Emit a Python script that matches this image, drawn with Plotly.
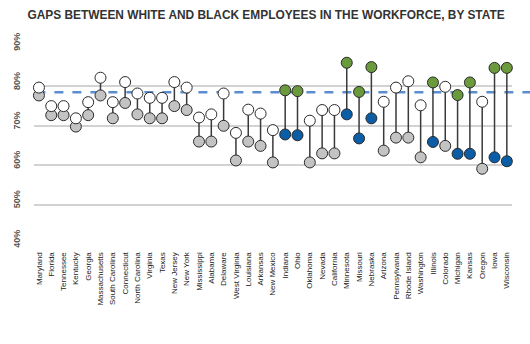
import plotly.graph_objects as go

states = ["Maryland", "Florida", "Tennessee", "Kentucky", "Georgia", "Massachusetts",
          "South Carolina", "Connecticut", "North Carolina", "Virginia", "Texas",
          "New Jersey", "New York", "Mississippi", "Alabama", "Delaware", "West Virginia",
          "Louisiana", "Arkansas", "New Mexico", "Indiana", "Ohio", "Oklahoma", "Nevada",
          "California", "Minnesota", "Missouri", "Nebraska", "Arizona", "Pennsylvania",
          "Rhode Island", "Washington", "Illinois", "Colorado", "Michigan", "Kansas",
          "Oregon", "Iowa", "Wisconsin"]
white_rate = [79.7, 75.0, 75.0, 71.9, 76.0, 82.2, 76.0, 81.1, 78.2, 77.1, 77.1,
              81.1, 79.7, 72.1, 72.9, 78.2, 68.2, 74.1, 73.1, 68.9, 79.0, 78.8,
              71.3, 74.0, 74.0, 86.0, 78.6, 84.9, 76.1, 79.7, 81.3, 75.2, 81.0,
              79.9, 77.8, 81.0, 76.1, 84.7, 84.7]
black_rate = [77.7, 72.7, 72.7, 69.8, 72.7, 77.7, 71.9, 75.8, 72.9, 71.9, 71.9,
              75.0, 74.0, 66.0, 66.0, 70.0, 61.2, 66.0, 64.9, 60.7, 67.8, 67.6,
              60.7, 63.0, 63.0, 72.9, 66.8, 71.9, 63.7, 67.0, 67.0, 62.0, 65.9,
              64.9, 62.9, 62.9, 59.1, 62.0, 61.0]
highlighted = ["Indiana", "Ohio", "Minnesota", "Missouri", "Nebraska", "Illinois",
               "Michigan", "Kansas", "Iowa", "Wisconsin"]
national_avg = 78.5
y_ticks = [40, 50, 60, 70, 80, 90]
y_tick_labels = ["40%", "50%", "60%", "70%", "80%", "90%"]

fig = go.Figure()

# connectors: one segment per state, from black rate up to white rate
lx, ly = [], []
for s, w, b in zip(states, white_rate, black_rate):
    lx += [s, s, None]
    ly += [b, w, None]
fig.add_trace(go.Scatter(x=lx, y=ly, mode="lines", connectgaps=False,
                         line=dict(color="#3a3a3a", width=1.5),
                         hoverinfo="skip", showlegend=False))

top_colors = ["#6a9a3c" if s in highlighted else "#ffffff" for s in states]
bot_colors = ["#0b5ea5" if s in highlighted else "#c3c3c3" for s in states]

fig.add_trace(go.Scatter(x=states, y=black_rate, mode="markers",
                         marker=dict(size=11, color=bot_colors,
                                     line=dict(color="#2a2a2a", width=1)),
                         showlegend=False, cliponaxis=False))
fig.add_trace(go.Scatter(x=states, y=white_rate, mode="markers",
                         marker=dict(size=11, color=top_colors,
                                     line=dict(color="#2a2a2a", width=1)),
                         showlegend=False, cliponaxis=False))

fig.add_shape(type="line", xref="paper", yref="y", x0=0.005, x1=1.04,
              y0=national_avg, y1=national_avg,
              line=dict(color="#5b8ed0", width=2.5, dash="dash"), layer="below")

fig.update_layout(
    width=530, height=344,
    margin=dict(l=26, r=18, t=47, b=100),
    paper_bgcolor="white", plot_bgcolor="white",
    title=dict(text="<b>GAPS BETWEEN WHITE AND BLACK EMPLOYEES IN THE WORKFORCE, BY STATE</b>",
               x=0.502, xanchor="center", y=0.958, yanchor="middle",
               font=dict(family="Liberation Sans, Arial", size=11.9, color="#333333")),
    xaxis=dict(type="category", range=[-0.4, 38.42], showgrid=False,
               showline=False, zeroline=False, tickangle=-90,
               tickfont=dict(family="Liberation Sans, Arial", size=8, color="#222222"),
               ticks="outside", ticklen=4, tickcolor="rgba(0,0,0,0)"),
    yaxis=dict(range=[40, 90], tickvals=y_ticks,
               ticktext=["<b>%s</b>" % t for t in y_tick_labels],
               showgrid=True, gridcolor="#d2d2d2", gridwidth=1.5,
               zeroline=False, showline=False, tickangle=-90,
               ticklabelshift=-4,
               tickfont=dict(family="Liberation Sans, Arial", size=9, color="#555555"),
               ticks="outside", ticklen=9, tickcolor="rgba(0,0,0,0)"),
)

fig.write_html("out.html")
